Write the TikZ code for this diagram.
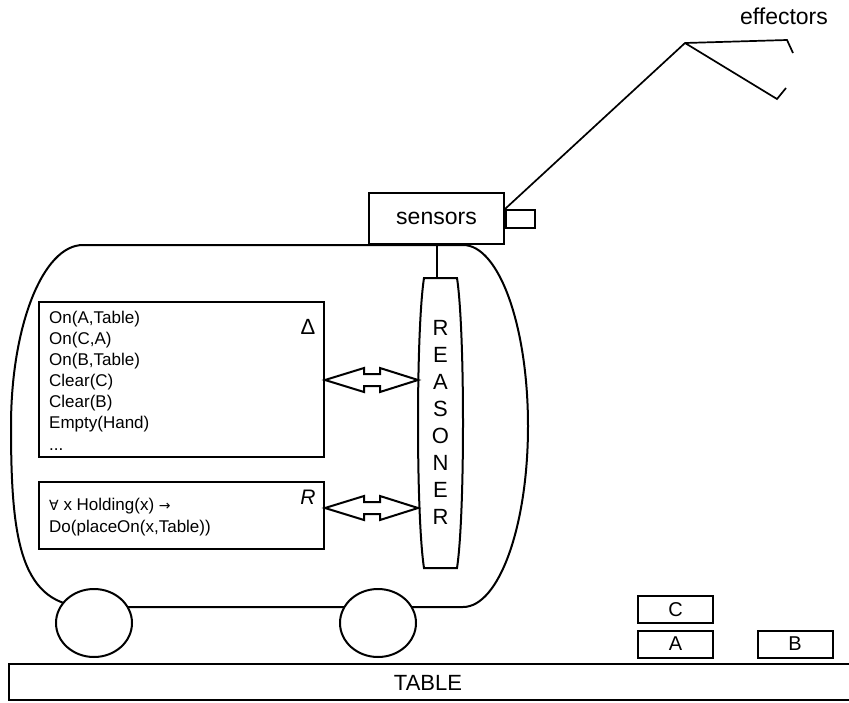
\documentclass[tikz,border=0pt]{standalone}
\usepackage{fontspec}
\setmainfont{Liberation Sans}
\newfontfamily\symbolfont{DejaVu Sans}
\usetikzlibrary{calc,shapes.geometric}

\tikzset{
  line/.style={line width=2pt},
  box/.style={draw, line width=2pt, fill=white, inner sep=0pt},
  fact/.style={anchor=base west, inner sep=0pt, font=\fontsize{17}{20}\selectfont},
  letter/.style={anchor=base, inner sep=0pt, font=\fontsize{22}{22}\selectfont},
  block/.style={box, minimum width=75pt, minimum height=27pt, font=\fontsize{20}{20}\selectfont},
  wheel/.style={box, ellipse, minimum width=76pt, minimum height=68pt},
}

% hollow two-headed arrow between two tips on one level
\newcommand{\dblarrow}[2]{%
  \draw[line, fill=white] (#1) -- ++(39,-12) -- ++(0,6) -- ($(#2)+(-38,-6)$)
    -- ++(0,-6) -- (#2) -- ++(-38,12) -- ++(0,-6) -- ($(#1)+(39,6)$) -- ++(0,6) -- cycle;}

\begin{document}
\begin{tikzpicture}[x=1pt, y=-1pt]
  \useasboundingbox (0,0) rectangle (849,702);

  % Cart body
  \draw[line, fill=white] (83,245) -- (463,245)
    .. controls (499,245) and (528,326) .. (528,426)
    .. controls (528,526) and (499,607) .. (463,607) -- (90,607)
    .. controls (20,607) and (11,540) .. (11,426)
    .. controls (11,326) and (43,245) .. (83,245) -- cycle;

  % Wheels
  \node[wheel] (wheelL) at (94,623) {};
  \node[wheel] (wheelR) at (378,623) {};

  % Sensors on top
  \node[box, minimum width=135pt, minimum height=51pt,
        font=\fontsize{23}{23}\selectfont] (sensors) at (436.5,218.5) {sensors};
  \node[box, minimum width=29pt, minimum height=18pt, anchor=west]
        (camera) at (sensors.east |- 0,219) {};
  \draw[line] (sensors.south) -- (sensors.south |- 0,278);

  % Reasoner
  \draw[line, fill=white] (424,278) -- (457,278)
    .. controls (465,330) and (465,516) .. (457,568) -- (424,568)
    .. controls (416,516) and (416,330) .. (424,278) -- cycle;
  \foreach \ch [count=\i from 0] in {R,E,A,S,O,N,E,R}
    \node[letter] (r\i) at (440.5,335+27.1*\i) {\ch};

  % Facts
  \node[box, minimum width=285pt, minimum height=155pt, anchor=north west]
        (kb) at (38,301) {};
  \foreach \fact [count=\i from 0] in {{On(A,Table)},{On(C,A)},{On(B,Table)},
                                       {Clear(C)},{Clear(B)},{Empty(Hand)}}
    \node[fact] (f\i) at (49,323+21.1*\i) {\fact};
  \node[fact] (fmore) at (49,450) {...};
  \node[font=\fontsize{22}{22}\selectfont] (kblabel) at (308,327) {Δ};

  % Rules
  \node[box, minimum width=285pt, minimum height=67pt, anchor=north west]
        (rules) at (38,481) {};
  \node[fact] (rule1) at (49,510)
        {{\symbolfont\fontsize{14}{14}\selectfont ∀} x Holding(x) {\symbolfont\fontsize{14}{14}\selectfont →}};
  \node[fact] (rule2) at (49,532) {Do(placeOn(x,Table))};
  \node[font=\fontsize{21}{21}\selectfont\itshape] (ruleslabel) at (308,497) {R};

  % Arrows to the reasoner
  \coordinate (kbtip) at (kb.east |- 0,380);
  \coordinate (reasonA) at (418,380);
  \dblarrow{kbtip}{reasonA}
  \coordinate (rulestip) at (rules.east |- 0,508);
  \coordinate (reasonB) at (418,508);
  \dblarrow{rulestip}{reasonB}

  % Arm with gripper
  \coordinate (elbow) at (685,43);
  \draw[line width=1.7pt] (camera.north west) -- (elbow) -- (787,40) -- (793,53);
  \draw[line width=1.7pt] (elbow) -- (777,99) -- (786,88);
  \node[anchor=base, font=\fontsize{23}{23}\selectfont] (effectors) at (784,24) {effectors};

  % Table and blocks
  \node[box, minimum width=852pt, minimum height=36pt, anchor=north west]
        (table) at (8,663) {};
  \node[anchor=base, font=\fontsize{22}{22}\selectfont] (tablename) at (428,690) {TABLE};
  \node[block] (blockA) at (675.5,644) {A};
  \node[block] (blockC) at (675.5,609.5) {C};
  \node[block] (blockB) at (795,644) {B};
\end{tikzpicture}
\end{document}
